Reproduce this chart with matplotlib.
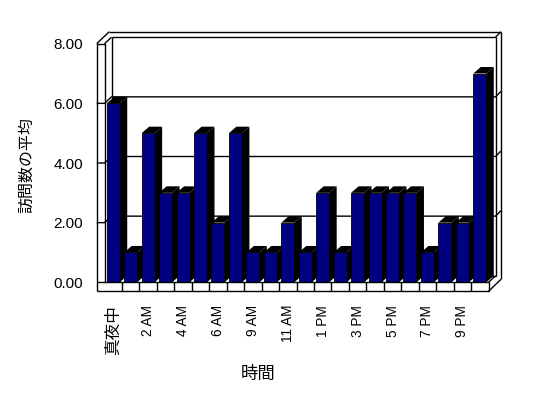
import matplotlib
matplotlib.use("Agg")
import matplotlib.pyplot as plt

# hourly categories (two hours missing in the source data)
hours = ["真夜中", "1 AM", "2 AM", "3 AM", "4 AM", "5 AM", "6 AM", "8 AM",
         "9 AM", "10 AM", "11 AM", "正午", "1 PM", "2 PM", "3 PM", "4 PM",
         "5 PM", "6 PM", "7 PM", "8 PM", "9 PM", "11 PM"]
visits = [6, 1, 5, 3, 3, 5, 2, 5, 1, 1, 2, 1, 3, 1, 3, 3, 3, 3, 1, 2, 2, 7]
yticks = [0, 2, 4, 6, 8]
ytick_labels = ["0.00", "2.00", "4.00", "6.00", "8.00"]

NAVY = "#000080"
LATIN_CJK = ["Liberation Sans", "Noto Sans CJK JP"]

fig = plt.figure(figsize=(5.48, 3.98), dpi=100)
ax = fig.add_axes([104.5 / 548, (398 - 282.3) / 398, 384 / 548, 238.6 / 398])
n = len(visits)
x0, x1, ytop = -0.5, n - 0.5, 8
ax.set_xlim(x0, x1)
ax.set_ylim(0, ytop)

# pixel sizes -> data units
sx = 384 / n
sy = 238.6 / ytop
DX, DY = 7 / sx, 6.5 / sy          # depth of the plot box
DX2, DY2 = 12.5 / sx, 12 / sy      # back of the walls
WALL = 7.8 / sx
FLOOR = 9 / sy
BX, BY = 7.5 / sx, 6.5 / sy        # bar depth


def seg(xs, ys, z=1):
    ax.plot(xs, ys, color="black", lw=1.0, clip_on=False, zorder=z,
            solid_capstyle="butt")


# gridlines on the back wall
for v in yticks[1:-1]:
    seg([x0 - WALL, x0, x0 + DX, x1 + DX, x1 + DX2],
        [v, v, v + DY, v + DY, v + DY2])

# left wall
seg([x0 - WALL, x0 - WALL, x0, x0], [-FLOOR, ytop, ytop, 0])
seg([x0 - WALL, x0 - WALL + DX2], [ytop, ytop + DY2])
seg([x0, x0 + DX], [ytop, ytop + DY])
# back wall
seg([x0 - WALL + DX2, x1 + DX2], [ytop + DY2, ytop + DY2])
seg([x0 + DX, x1 + DX], [ytop + DY, ytop + DY])
seg([x0 + DX, x0 + DX], [ytop + DY, DY])
seg([x1 + DX, x1 + DX], [ytop + DY, DY])
seg([x1 + DX, x1 + DX2], [ytop + DY, ytop + DY2])
seg([x1 + DX2, x1 + DX2], [ytop + DY2, -FLOOR + DY2])
# floor
seg([x0 + DX, x1 + DX], [DY, DY])
seg([x0 - WALL, x1], [0, 0], z=4)
seg([x0 - WALL, x1, x1], [-FLOOR, -FLOOR, 0], z=4)
seg([x1, x1 + DX2], [-FLOOR, -FLOOR + DY2], z=4)
seg([x1, x1 + DX], [0, DY], z=4)
for i in range(1, n):
    seg([x0 + i, x0 + i], [0, -FLOOR], z=4)

# 3d bars: black side and top, navy front
bw = 0.745
for i, v in enumerate(visits):
    xl, xr = i - bw / 2, i + bw / 2
    ax.fill([xr, xr + BX, xr + BX, xr], [0, BY, v + BY, v],
            color="black", lw=0, zorder=2, clip_on=False)
    ax.fill([xl, xr, xr + BX, xl + BX], [v, v, v + BY, v + BY],
            color="black", lw=0, zorder=2, clip_on=False)
ax.bar(range(n), visits, width=bw, color=NAVY, edgecolor="black",
       linewidth=0.6, zorder=3, clip_on=False)

for s in ax.spines.values():
    s.set_visible(False)

ax.set_yticks(yticks)
ax.set_yticklabels(ytick_labels, family=LATIN_CJK, fontsize=11)
ax.set_xticks(range(0, n, 2))
ax.set_xticklabels(hours[::2], family=LATIN_CJK, fontsize=9.8,
                   rotation=90, va="top")
ax.get_xticklabels()[0].set_fontsize(12)
ax.tick_params(axis="y", length=0, pad=15.5)
ax.tick_params(axis="x", length=0, pad=16.3)

ax.set_ylabel("訪問数の平均", family="Noto Sans CJK JP", fontsize=11.5)
ax.yaxis.set_label_coords(-0.18, 0.49)
ax.set_xlabel("時間", family="Noto Sans CJK JP", fontsize=12.5)
ax.xaxis.set_label_coords(0.3997, -0.345)

fig.savefig("out.png", dpi=100)
